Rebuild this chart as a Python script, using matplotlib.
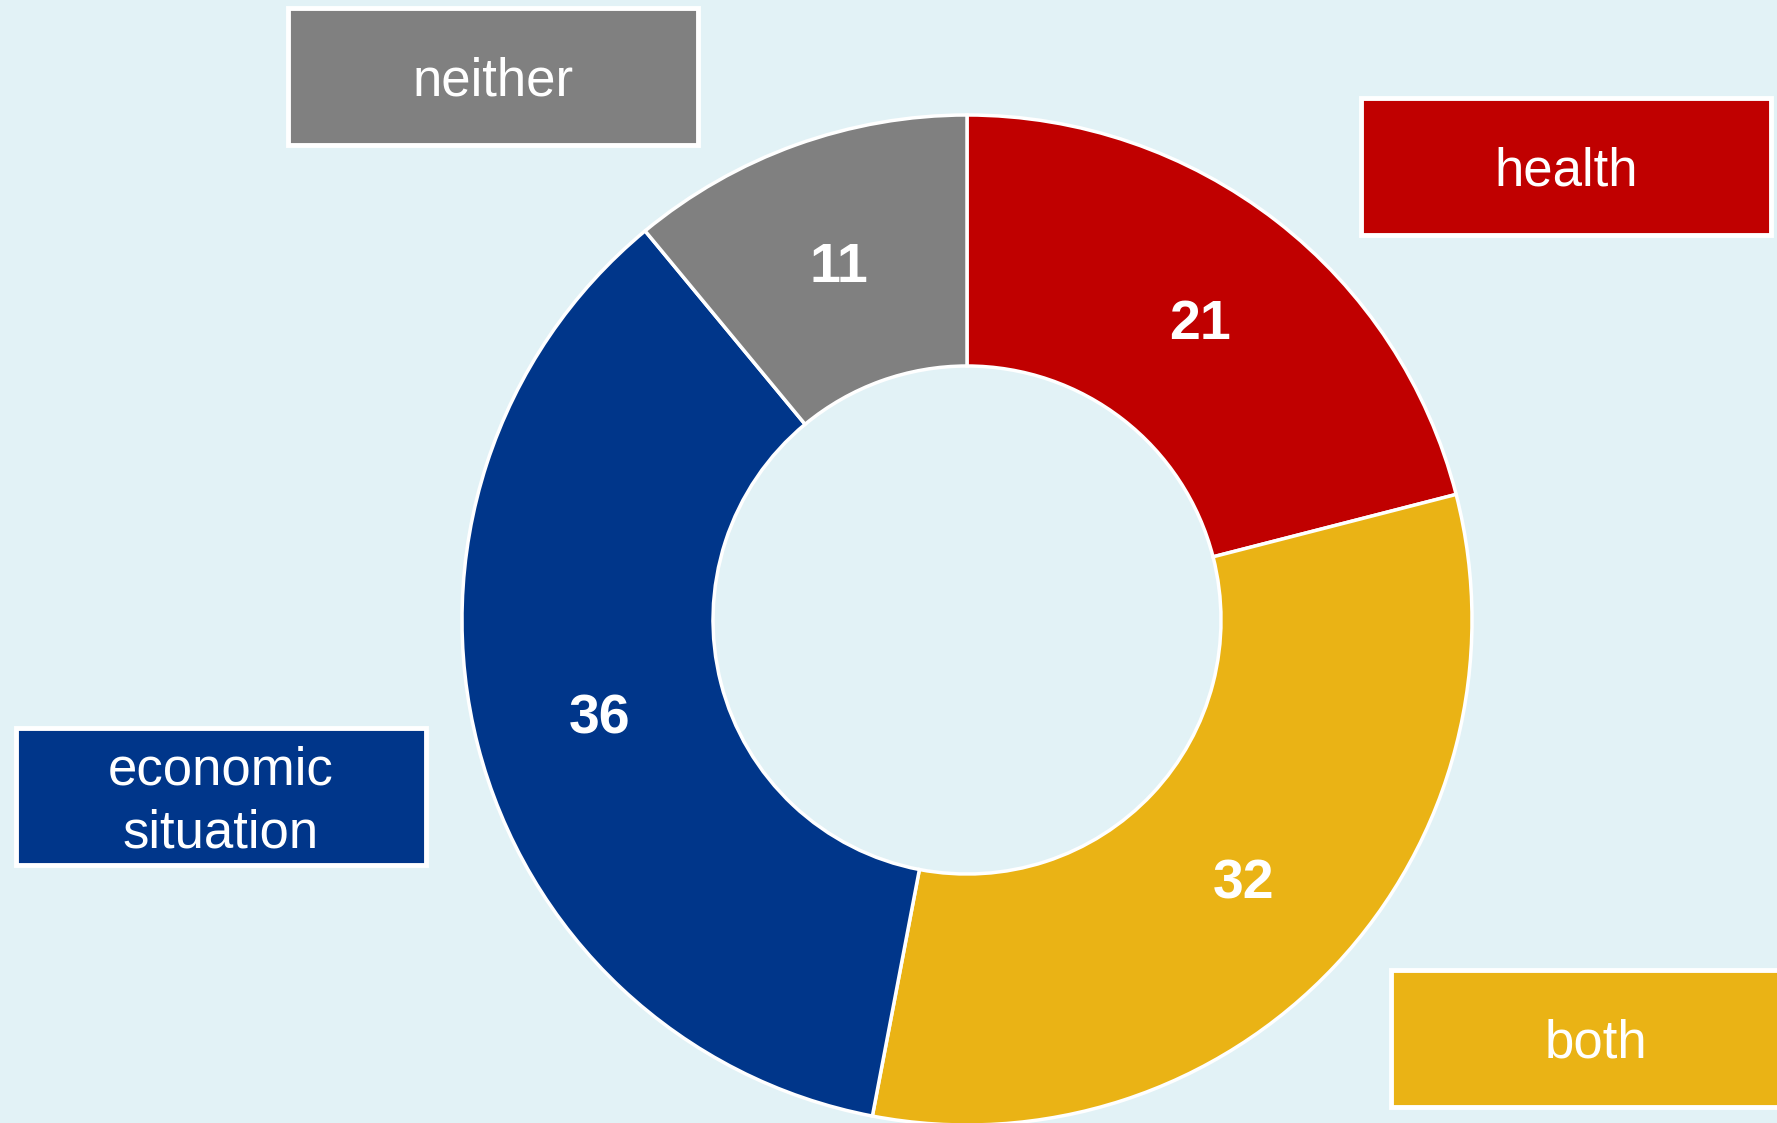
import matplotlib.pyplot as plt
from matplotlib.patches import Rectangle
import numpy as np

plt.rcParams['font.family'] = ['Liberation Sans', 'DejaVu Sans']

categories = ['health', 'both', 'economic\nsituation', 'neither']
values = [21, 32, 36, 11]
colors = ['#C00000', '#EAB315', '#00368A', '#808080']

# label box centres (pixels, y measured from top)
box_centres = [(1566, 166), (1596, 1038), (221, 796), (493, 76)]
box_w, box_h = 410, 137

W, H = 1777, 1123
bg = '#E2F2F6'

fig = plt.figure(figsize=(W / 100, H / 100), dpi=100)
fig.patch.set_facecolor(bg)
ax = fig.add_axes([0, 0, 1, 1])
ax.set_facecolor(bg)

cx, cy = 967, H - 620
r_out, r_in = 505, 254

wedges, texts = ax.pie(values, colors=colors, startangle=90, counterclock=False,
                       center=(cx, cy), radius=r_out, frame=True,
                       wedgeprops=dict(width=r_out - r_in, edgecolor='white', linewidth=2.5))
ax.set_xlim(0, W)
ax.set_ylim(0, H)
ax.set_aspect('equal')
ax.axis('off')

r_mid = (r_out + r_in) / 2
for w, v in zip(wedges, values):
    ang = np.deg2rad((w.theta1 + w.theta2) / 2)
    ax.text(cx + r_mid * np.cos(ang), cy + r_mid * np.sin(ang) - 5, str(v),
            ha='center', va='center', color='white', fontsize=40, fontweight='bold')

for lab, col, (bx, by) in zip(categories, colors, box_centres):
    yy = H - by
    ax.add_patch(Rectangle((bx - box_w / 2, yy - box_h / 2), box_w, box_h,
                           facecolor=col, edgecolor='white', linewidth=3.5, clip_on=False))
    ax.text(bx, yy - 6, lab, ha='center', va='center', color='white', fontsize=38,
            linespacing=1.35)

fig.savefig('out.png', dpi=100, facecolor=bg)
